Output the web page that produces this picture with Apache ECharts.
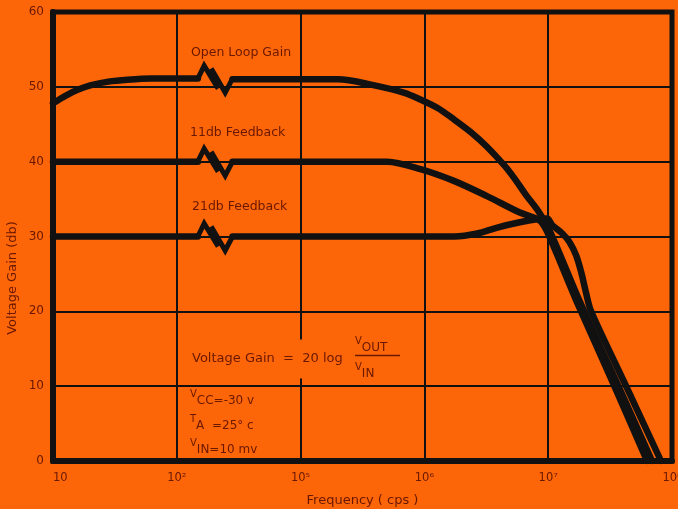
<!DOCTYPE html>
<html><head><meta charset="utf-8">
<script src="https://cdn.jsdelivr.net/npm/echarts@6/dist/echarts.min.js"></script>
<style>html,body{margin:0;padding:0;background:#fc6508;}#c{width:678px;height:509px;}</style>
</head><body><div id="c"></div>
<script>
// ---- data (frequency in cps, gain in db) ----
const xTickLabels = ['10', '10²', '10⁵', '10⁶', '10⁷', '10⁸'];
const yTickValues = [0, 10, 20, 30, 40, 50, 60];

const openLoopLowF  = [10, 12.6, 15.8, 20, 28, 40, 63, 100];
const openLoopLowG  = [47.8, 48.8, 49.6, 50.2, 50.7, 50.95, 51.1, 51.1];
const openLoopHighF = [1e5, 2.0e5, 3.7e5, 6.9e5, 9.3e5, 1.27e6, 1.75e6, 2.35e6, 3.2e6, 4.42e6, 5.32e6, 6.65e6, 8.15e6, 1.02e7, 1.78e7, 3.47e7, 6.9e7];
const openLoopHighG = [51.0, 51.0, 50.3, 49.2, 48.3, 47.2, 45.6, 44.0, 42.0, 39.5, 37.8, 35.5, 33.6, 30.9, 21.5, 11.0, 0];

const fb11LowF  = [10, 30, 100];
const fb11LowG  = [40, 40, 40];
const fb11HighF = [1e5, 5.0e5, 9.3e5, 1.75e6, 3.2e6, 5.9e6, 8.46e6, 9.82e6, 1.71e7, 3.22e7, 6.29e7];
const fb11HighG = [40, 40, 39.0, 37.4, 35.4, 33.2, 32.2, 30.6, 21.2, 11.0, 0];

const fb21LowF  = [10, 30, 100];
const fb21LowG  = [30, 30, 30];
const fb21HighF = [1e5, 1.75e6, 2.67e6, 3.88e6, 5.9e6, 8.1e6, 9.8e6, 1.08e7, 1.30e7, 1.48e7, 1.68e7, 1.85e7, 2.02e7, 2.22e7, 4.26e7, 8.15e7];
const fb21HighG = [30, 30, 30.4, 31.2, 31.9, 32.3, 32.4, 31.5, 30.4, 29.3, 27.5, 25.2, 22.5, 20.0, 10.0, 0];

const curveNames = ['Open Loop Gain', '11db Feedback', '21db Feedback'];

// ---- broken log axis: 10..10^2 then 10^5..10^8, one unit per decade ----
const BREAK_FROM = 1.17, BREAK_TO = 1.45;
function axisPos(f) { const e = Math.log10(f); return e <= 2 ? e - 1 : e - 3; }

const INK = '#111';
const TXT = '#6a1800';
const BG = '#fc6508';
const FONT = '"DejaVu Sans", sans-serif';

const curves = [
  [openLoopLowF, openLoopLowG, openLoopHighF, openLoopHighG],
  [fb11LowF, fb11LowG, fb11HighF, fb11HighG],
  [fb21LowF, fb21LowG, fb21HighF, fb21HighG]
];

const series = [];
curves.forEach(([lf, lg, hf, hg], k) => {
  const left = lf.map((f, i) => [axisPos(f), lg[i]]);
  left.push([BREAK_FROM, lg[lg.length - 1]]);
  const right = [[BREAK_TO, hg[0]]].concat(hf.map((f, i) => [axisPos(f), hg[i]]));
  [left, right].forEach(d => series.push({
    type: 'line', name: curveNames[k], data: d, showSymbol: false, smooth: 0.3,
    lineStyle: { color: INK, width: 6.5, cap: 'round' }, z: 3, silent: true
  }));
});

series.push({
  type: 'custom', silent: true, z: 4,
  data: curves.map(c => [ (BREAK_FROM + BREAK_TO) / 2, c[1][c[1].length - 1] ]),
  renderItem: (params, api) => {
    const v = api.value(1);
    const a = api.coord([BREAK_FROM, v]), b = api.coord([BREAK_TO, v]);
    const cx = (a[0] + b[0]) / 2, cy = a[1];
    const s = { stroke: INK, lineWidth: 5, fill: null, lineJoin: 'miter' };
    return { type: 'group', children: [
      { type: 'polyline', shape: { points: [[a[0], cy], [cx - 11, cy - 13], [cx + 3, cy + 10]] }, style: s },
      { type: 'polyline', shape: { points: [[cx - 4, cy - 10], [cx + 10, cy + 14], [b[0], cy]] }, style: s }
    ]};
  }
});

const chart = echarts.init(document.getElementById('c'), null, { renderer: 'canvas' });

const richSub = {
  v: { fontSize: 10, fontFamily: FONT, fill: TXT, lineHeight: 10, verticalAlign: 'top' },
  s: { fontSize: 12, fontFamily: FONT, fill: TXT, lineHeight: 18, verticalAlign: 'bottom' }
};

chart.setOption({
  backgroundColor: BG,
  animation: false,
  grid: { left: 53, right: 6, top: 12, bottom: 48, show: true, borderColor: INK, borderWidth: 5, backgroundColor: 'transparent', outerBoundsMode: 'none', containLabel: false },
  xAxis: {
    type: 'value', min: 0, max: 5, interval: 1,
    name: 'Frequency ( cps )', nameLocation: 'middle', nameGap: 33,
    nameTextStyle: { color: TXT, fontSize: 13, fontFamily: FONT },
    axisLine: { show: true, lineStyle: { color: INK, width: 6 } },
    axisTick: { show: false },
    splitLine: { show: true, lineStyle: { color: INK, width: 2 } },
    axisLabel: { formatter: v => xTickLabels[Math.round(v)], color: TXT, fontSize: 11.5, fontFamily: FONT, margin: 11, alignMinLabel: 'left' }
  },
  yAxis: {
    type: 'value', min: yTickValues[0], max: yTickValues[yTickValues.length - 1], interval: 10,
    axisLine: { show: true, lineStyle: { color: INK, width: 6 } },
    axisTick: { show: false },
    splitLine: { show: true, lineStyle: { color: INK, width: 2 } },
    axisLabel: { color: TXT, fontSize: 12, fontFamily: FONT, margin: 9 }
  },
  graphic: [
    { type: 'text', x: 13, y: 278, rotation: Math.PI / 2, style: { text: 'Voltage Gain (db)', font: '13px ' + FONT, fill: TXT, align: 'center', verticalAlign: 'middle' } },
    { type: 'text', x: 191, y: 53, style: { text: curveNames[0], font: '12.5px ' + FONT, fill: TXT, verticalAlign: 'middle' } },
    { type: 'text', x: 190, y: 133, style: { text: curveNames[1], font: '12.5px ' + FONT, fill: TXT, verticalAlign: 'middle' } },
    { type: 'text', x: 192, y: 207, style: { text: curveNames[2], font: '12.5px ' + FONT, fill: TXT, verticalAlign: 'middle' } },
    { type: 'text', x: 190, y: 359, z: 10, style: { text: 'Voltage Gain  =  20 log', font: '13px ' + FONT, fill: TXT, verticalAlign: 'middle', backgroundColor: BG, padding: [14, 2, 12, 2] } },
    { type: 'text', x: 355, y: 345, z: 10, style: { text: '{v|V}{s|OUT}', rich: richSub, verticalAlign: 'middle' } },
    { type: 'line', z: 10, shape: { x1: 355, y1: 355.5, x2: 400, y2: 355.5 }, style: { stroke: TXT, lineWidth: 1.5 } },
    { type: 'text', x: 355, y: 371, z: 10, style: { text: '{v|V}{s|IN}', rich: richSub, verticalAlign: 'middle' } },
    { type: 'text', x: 190, y: 398, z: 10, style: { text: '{v|V}{s|CC=-30 v}', rich: richSub, verticalAlign: 'middle' } },
    { type: 'text', x: 190, y: 423, z: 10, style: { text: '{v|T}{s|A  =25° c}', rich: richSub, verticalAlign: 'middle' } },
    { type: 'text', x: 190, y: 447, z: 10, style: { text: '{v|V}{s|IN=10 mv}', rich: richSub, verticalAlign: 'middle' } }
  ],
  series: series
});
</script>
</body></html>
